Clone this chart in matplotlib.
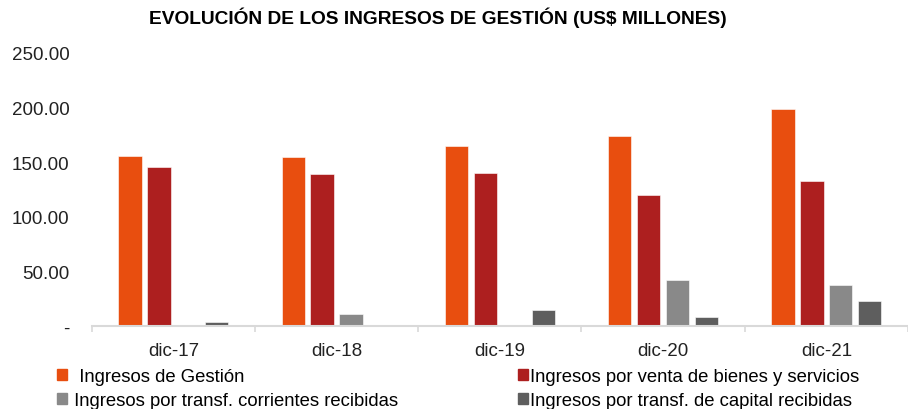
import matplotlib
matplotlib.use('Agg')
import matplotlib.pyplot as plt
from matplotlib.patches import Patch
import numpy as np

plt.rcParams['font.family'] = ['Liberation Sans', 'DejaVu Sans']

# datos (US$ millones)
periodos = ['dic-17', 'dic-18', 'dic-19', 'dic-20', 'dic-21']
ing_gestion = [156.0, 155.0, 165.0, 174.0, 198.5]
ing_venta = [146.0, 139.0, 140.0, 120.0, 133.0]
ing_corrientes = [0.0, 11.5, 0.5, 42.3, 37.8]
ing_capital = [3.7, 0.0, 14.6, 8.2, 22.9]

series = [
    ('Ingresos de Gestión', ing_gestion, '#E84E0F'),
    ('Ingresos por venta de bienes y servicios', ing_venta, '#AD1F1F'),
    ('Ingresos por transf. corrientes recibidas', ing_corrientes, '#898989'),
    ('Ingresos por transf. de capital recibidas', ing_capital, '#5E5E5E'),
]

fig = plt.figure(figsize=(9.08, 4.10), dpi=100)
ax = fig.add_axes([0.101, 0.2017, 0.899, 0.6666])

x = np.arange(len(periodos))
step = 0.177
width = 0.143
for i, (name, vals, color) in enumerate(series):
    ax.bar(x + (i - 1.5) * step, vals, width, color=color,
           edgecolor='white', linewidth=0.4, label=name)

ax.set_xlim(-0.5, len(periodos) - 0.5)
ax.set_ylim(0, 250)
ax.set_yticks([0, 50, 100, 150, 200, 250])
ax.set_yticklabels(['-', '50.00', '100.00', '150.00', '200.00', '250.00'])
ax.set_xticks(x)
ax.set_xticklabels(periodos)
ax.set_xticks(np.arange(-0.5, len(periodos)), minor=True)

for s in ['top', 'right', 'left']:
    ax.spines[s].set_visible(False)
ax.spines['bottom'].set_color('#D9D9D9')
ax.spines['bottom'].set_linewidth(1.5)

ax.tick_params(axis='y', length=0, pad=16, labelsize=13.5, colors='#222222')
ax.tick_params(axis='x', which='major', length=0, pad=11, labelsize=13.5,
               colors='#222222')
ax.tick_params(axis='x', which='minor', length=4, width=1.2, color='#D9D9D9')

fig.text(438 / 908, 1 - 18 / 410,
         'EVOLUCIÓN DE LOS INGRESOS DE GESTIÓN (US$ MILLONES)',
         ha='center', va='center', fontsize=13.8, fontweight='bold')

# leyenda en dos columnas
h = [Patch(color=c, label=n) for n, v, c in series]
leg_kw = dict(frameon=False, fontsize=13.3, handlelength=0.55, handleheight=0.55,
              handletextpad=0.1, labelspacing=0.4, borderpad=0, borderaxespad=0)
fig.legend([h[0], h[2]], ['  ' + series[0][0], ' ' + series[2][0]],
           loc='upper left', bbox_to_anchor=(57 / 908, 1 - 369 / 410), **leg_kw)
fig.legend([h[1], h[3]], [series[1][0], series[3][0]],
           loc='upper left', bbox_to_anchor=(518 / 908, 1 - 369 / 410), **leg_kw)

fig.savefig('out.png', dpi=100)
